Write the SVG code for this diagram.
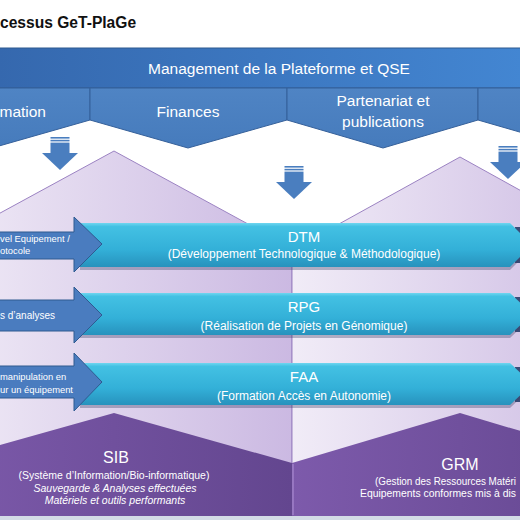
<svg xmlns="http://www.w3.org/2000/svg" width="520" height="520" viewBox="0 0 520 520">
<defs>
<linearGradient id="gMgmt" x1="0" y1="0" x2="1" y2="0"><stop offset="0" stop-color="#3568ae"/><stop offset="1" stop-color="#4386d2"/></linearGradient>
<linearGradient id="gTab" x1="0" y1="0" x2="0" y2="1"><stop offset="0" stop-color="#4f84c4"/><stop offset="1" stop-color="#467bbc"/></linearGradient>
<linearGradient id="gLight" x1="0" y1="0" x2="1" y2="0"><stop offset="0" stop-color="#f1ecf7"/><stop offset="1" stop-color="#cbb9e2"/></linearGradient>
<linearGradient id="gDark" x1="0" y1="0" x2="1" y2="0"><stop offset="0" stop-color="#7d5aab"/><stop offset="1" stop-color="#63468f"/></linearGradient>
<linearGradient id="gCyan" x1="0" y1="0" x2="0" y2="1"><stop offset="0" stop-color="#6fd6f0"/><stop offset="0.08" stop-color="#43c1e3"/><stop offset="0.6" stop-color="#33b0d8"/><stop offset="1" stop-color="#2792bd"/></linearGradient>
<g id="darr">
<rect x="-9.5" y="0" width="19" height="1.6" fill="#4a7ebf"/>
<rect x="-9.5" y="2.8" width="19" height="1.6" fill="#4a7ebf"/>
<rect x="-9.5" y="5.6" width="19" height="11" fill="#4a7ebf"/>
<polygon points="-18,16 18,16 0,33" fill="#4a7ebf"/>
</g>
</defs>
<style>
text{font-family:"Liberation Sans",Arial,sans-serif;fill:#fff}
.title{font-weight:bold;fill:#111;font-size:15.6px}
.hd{font-size:15.5px}
.tab{fill:url(#gTab);stroke:#35609a;stroke-width:1}
.bar{fill:url(#gCyan)}
.shadow{fill:#3b3f63;opacity:0.35}
.barT{font-size:15px;text-anchor:middle}
.barS{font-size:12px;text-anchor:middle}
.arrow{fill:#4a7cbf;stroke:#2f5a90;stroke-width:1}
.aT{font-size:9.4px}
.light{fill:url(#gLight);stroke:#9b82c2;stroke-width:1}
.dark{fill:url(#gDark)}
.big{font-size:16px;text-anchor:middle}
.sm{font-size:10.5px;text-anchor:middle}
.sl{font-size:10.2px}
.it{font-style:italic}
</style>
<rect width="520" height="520" fill="#ffffff"/>
<text class="title" x="0" y="28">cessus GeT-PlaGe</text>

<g id="houses-light">
<polygon class="light" points="-64,248 114,151 292,248 292,516 -64,516"/>
<polygon class="light" points="292,250 460,157 628,250 628,516 292,516"/>
</g>

<g id="management">
<rect x="-2" y="48" width="524" height="40" fill="url(#gMgmt)" stroke="#2f5a90" stroke-width="1"/>
<text class="hd" x="279" y="74" text-anchor="middle">Management de la Plateforme et QSE</text>
</g>
<g id="tab-formation">
<polygon class="tab" points="-107,88 90,88 90,120 -8,148 -107,120"/>
<text class="hd" x="46" y="117" text-anchor="end">mation</text>
</g>
<g id="tab-finances">
<polygon class="tab" points="90,88 287,88 287,120 188,148 90,120"/>
<text class="hd" x="188" y="117" text-anchor="middle">Finances</text>
</g>
<g id="tab-partenariat">
<polygon class="tab" points="287,88 478,88 478,120 383,148 287,120"/>
<text class="hd" x="383" y="106" text-anchor="middle">Partenariat et</text>
<text class="hd" x="383" y="127" text-anchor="middle">publications</text>
</g>
<g id="tab-right">
<polygon class="tab" points="478,88 672,88 672,120 575,148 478,120"/>
</g>

<g id="connectors">
<use href="#darr" x="60" y="137"/>
<use href="#darr" x="294" y="166"/>
<use href="#darr" x="508" y="146"/>
</g>

<g id="houses-dark">
<g id="SIB">
<polygon class="dark" points="-64,463 114,413 292,463 292,516 -64,516"/>
<text class="big" x="116" y="463">SIB</text>
<text class="sm" x="114" y="479">(Système d’Information/Bio-informatique)</text>
<text class="sm it" x="115" y="492">Sauvegarde &amp; Analyses effectuées</text>
<text class="sm it" x="115" y="504">Matériels et outils performants</text>
</g>
<g id="GRM">
<polygon class="dark" points="292,463 460,413 628,463 628,516 292,516"/>
<line x1="293" y1="464" x2="293" y2="515" stroke="#a98ad0" stroke-width="1.2"/>
<text class="big" x="460" y="470">GRM</text>
<text class="sl" x="375" y="485" textLength="141" lengthAdjust="spacingAndGlyphs">(Gestion des Ressources Matéri</text>
<text class="sl" x="360" y="497" textLength="156" lengthAdjust="spacingAndGlyphs">Equipements conformes mis à dis</text>
</g>
</g>
<rect x="0" y="516" width="520" height="4" fill="#d3dbe6"/>

<g id="DTM">
<rect x="515" y="227" width="5" height="36" fill="#3c4c78"/>
<polygon class="shadow" points="80,226 510,226 532,248 510,270 80,270"/>
<polygon class="bar" points="80,223 510,223 532,245 510,267 80,267"/>
<text class="barT" x="304" y="242">DTM</text>
<text class="barS" x="304" y="258">(Développement Technologique &amp; Méthodologique)</text>
</g>
<g id="RPG">
<rect x="515" y="297" width="5" height="35" fill="#3c4c78"/>
<polygon class="shadow" points="80,296 510,296 532,317 510,338 80,338"/>
<polygon class="bar" points="80,293 510,293 532,314 510,335 80,335"/>
<text class="barT" x="304" y="312">RPG</text>
<text class="barS" x="304" y="330">(Réalisation de Projets en Génomique)</text>
</g>
<g id="FAA">
<rect x="515" y="367" width="5" height="35" fill="#3c4c78"/>
<polygon class="shadow" points="80,366 510,366 532,387 510,408 80,408"/>
<polygon class="bar" points="80,363 510,363 532,384 510,405 80,405"/>
<text class="barT" x="304" y="382">FAA</text>
<text class="barS" x="304" y="400">(Formation Accès en Autonomie)</text>
</g>

<g id="arrow1">
<polygon class="arrow" points="-5,232 74,232 74,217 102,244 74,272 74,259 -5,259"/>
<text class="aT" x="0" y="242">vel Equipement /</text>
<text class="aT" x="0" y="254">otocole</text>
</g>
<g id="arrow2">
<polygon class="arrow" points="-5,300 74,300 74,287 102,315 74,343 74,331 -5,331"/>
<text class="aT" x="0" y="319" style="font-size:10px">s d’analyses</text>
</g>
<g id="arrow3">
<polygon class="arrow" points="-5,366 74,366 74,353 102,382 74,411 74,398 -5,398"/>
<text class="aT" x="0" y="380">manipulation en</text>
<text class="aT" x="0" y="393">ur un équipement</text>
</g>
</svg>
